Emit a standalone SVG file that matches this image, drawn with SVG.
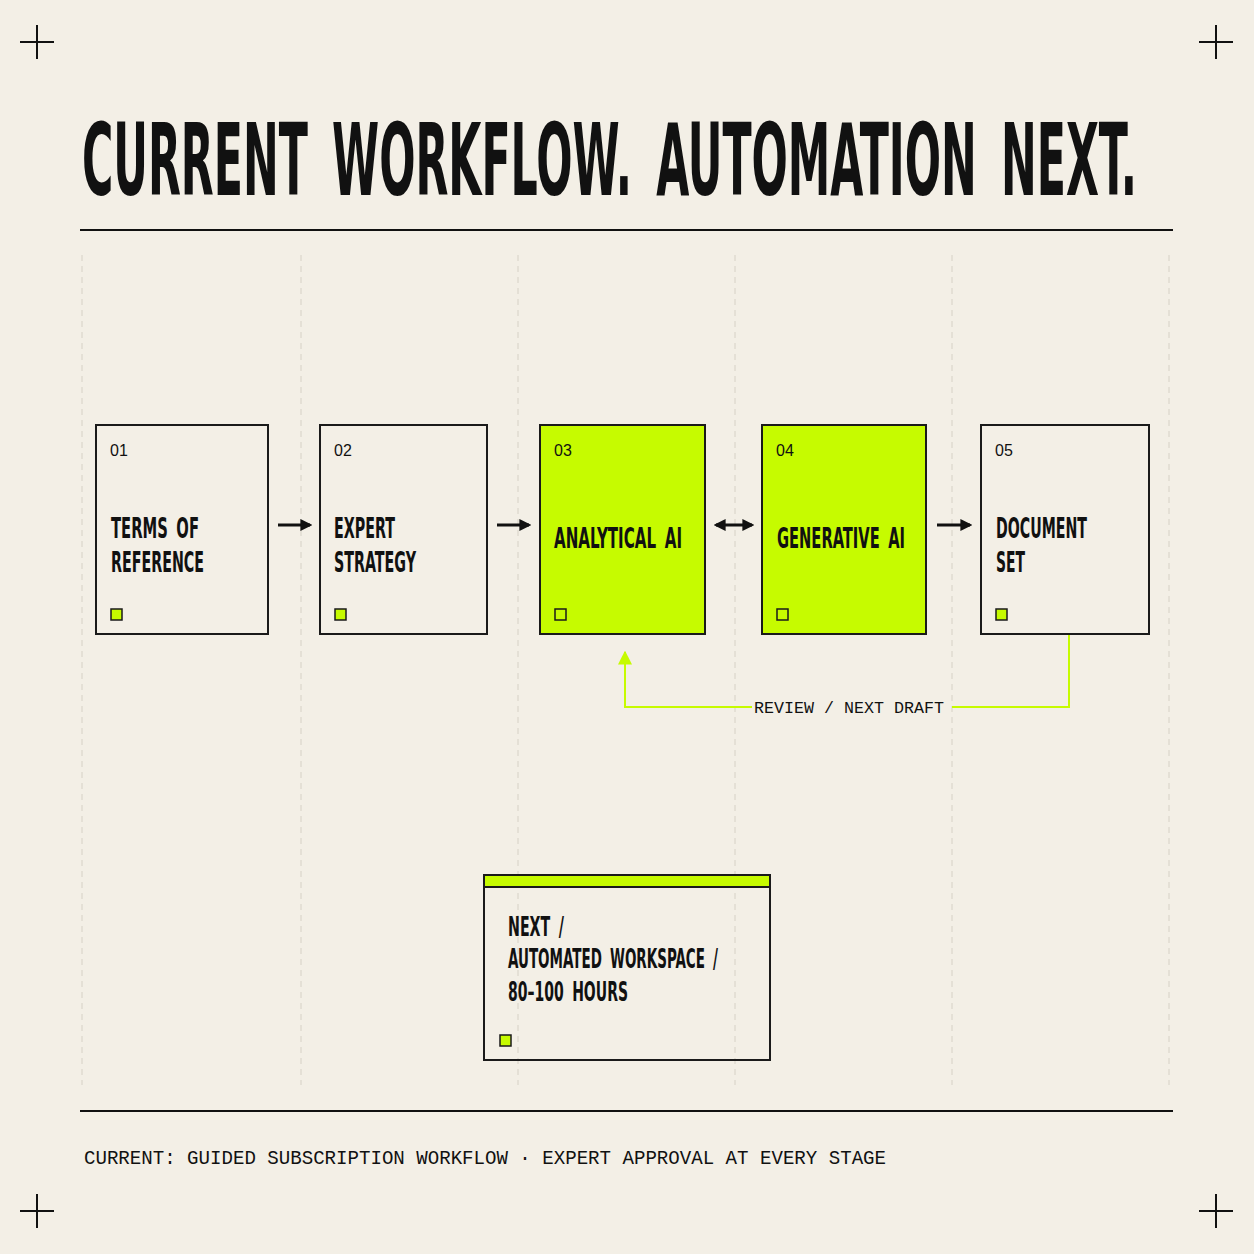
<svg xmlns="http://www.w3.org/2000/svg" width="1254" height="1254" viewBox="0 0 1254 1254">
<defs>
<style>
.cond{font-family:"Liberation Sans Narrow","DejaVu Sans Condensed","Liberation Sans",sans-serif;fill:#111;font-weight:bold;word-spacing:6px;}
.mono{font-family:"Liberation Mono","DejaVu Sans Mono",monospace;fill:#111;}
.num{font-family:"Liberation Sans","DejaVu Sans",sans-serif;font-size:16px;fill:#111;}
.box{fill:none;stroke:#1a1a1a;stroke-width:2;}
.hl{fill:#c6fb00;}
.grid{stroke:#d6d1c6;stroke-width:1;stroke-dasharray:6 5;}
.sq{fill:#c6fb00;stroke:#1a1a1a;stroke-width:1.5;}
.sqo{fill:none;stroke:#1a1a1a;stroke-width:1.5;}
.ar{stroke:#111;stroke-width:3;fill:none;}
.cross{stroke:#111;stroke-width:2;}
</style>
<marker id="ah" viewBox="0 0 10 10" refX="8" refY="5" markerWidth="4" markerHeight="4" orient="auto-start-reverse"><path d="M0,0L10,5L0,10z" fill="#111"/></marker>
<marker id="gh" viewBox="0 0 10 10" refX="9" refY="5" markerWidth="7" markerHeight="7" orient="auto"><path d="M0,0L10,5L0,10z" fill="#c6fb00"/></marker>
</defs>
<rect width="1254" height="1254" fill="#f3efe6"/>
<g id="crosses" class="cross">
<path d="M20,42H54M37,25V59M1199,42H1233M1216,25V59M20,1211H54M37,1194V1228M1199,1211H1233M1216,1194V1228"/>
</g>
<text class="cond" x="82" y="195" font-size="100" style="word-spacing:20px" textLength="1055" lengthAdjust="spacingAndGlyphs">CURRENT WORKFLOW. AUTOMATION NEXT.</text>
<path d="M80,230H1173M80,1111H1173" stroke="#111" stroke-width="2"/>
<g id="grid" class="grid">
<path d="M82,255V1085M301,255V1085M518,255V1085M735,255V1085M952,255V1085M1169,255V1085"/>
</g>
<g id="node1"><rect class="box" x="96" y="425" width="172" height="209"/>
<text class="num" x="110" y="456">01</text>
<text class="cond" x="111" y="538" font-size="29" textLength="88" lengthAdjust="spacingAndGlyphs">TERMS OF</text>
<text class="cond" x="111" y="572" font-size="29" textLength="93" lengthAdjust="spacingAndGlyphs">REFERENCE</text>
<rect class="sq" x="111" y="609" width="11" height="11"/></g>
<g id="node2"><rect class="box" x="320" y="425" width="167" height="209"/>
<text class="num" x="334" y="456">02</text>
<text class="cond" x="334" y="538" font-size="29" textLength="61" lengthAdjust="spacingAndGlyphs">EXPERT</text>
<text class="cond" x="334" y="572" font-size="29" textLength="82" lengthAdjust="spacingAndGlyphs">STRATEGY</text>
<rect class="sq" x="335" y="609" width="11" height="11"/></g>
<g id="node3"><rect class="box hl" x="540" y="425" width="165" height="209"/>
<text class="num" x="554" y="456">03</text>
<text class="cond" x="554" y="548" font-size="29" textLength="128" lengthAdjust="spacingAndGlyphs">ANALYTICAL AI</text>
<rect class="sqo" x="555" y="609" width="11" height="11"/></g>
<g id="node4"><rect class="box hl" x="762" y="425" width="164" height="209"/>
<text class="num" x="776" y="456">04</text>
<text class="cond" x="777" y="548" font-size="29" textLength="128" lengthAdjust="spacingAndGlyphs">GENERATIVE AI</text>
<rect class="sqo" x="777" y="609" width="11" height="11"/></g>
<g id="node5"><rect class="box" x="981" y="425" width="168" height="209"/>
<text class="num" x="995" y="456">05</text>
<text class="cond" x="996" y="538" font-size="29" textLength="91" lengthAdjust="spacingAndGlyphs">DOCUMENT</text>
<text class="cond" x="996" y="572" font-size="29" textLength="29" lengthAdjust="spacingAndGlyphs">SET</text>
<rect class="sq" x="996" y="609" width="11" height="11"/></g>
<g id="node6"><rect class="box" x="484" y="876" width="286" height="184"/>
<rect x="484" y="875" width="286" height="12" fill="#c6fb00" stroke="#1a1a1a" stroke-width="2"/>
<text class="cond" x="508" y="936" font-size="26" textLength="56" lengthAdjust="spacingAndGlyphs">NEXT /</text>
<text class="cond" x="508" y="968" font-size="26" textLength="210" lengthAdjust="spacingAndGlyphs">AUTOMATED WORKSPACE /</text>
<text class="cond" x="508" y="1001" font-size="26" textLength="120" lengthAdjust="spacingAndGlyphs">80–100 HOURS</text>
<rect class="sq" x="500" y="1035" width="11" height="11"/></g>
<g id="connectors">
<path class="ar" d="M278,525H310" marker-end="url(#ah)"/>
<path class="ar" d="M497,525H529" marker-end="url(#ah)"/>
<path class="ar" d="M716,525H752" marker-start="url(#ah)" marker-end="url(#ah)"/>
<path class="ar" d="M937,525H970" marker-end="url(#ah)"/>
<path d="M1069,635V707H952M752,707H625V652" fill="none" stroke="#c6fb00" stroke-width="2" marker-end="url(#gh)"/>
<text class="mono" x="849" y="713" font-size="17" text-anchor="middle" textLength="190" lengthAdjust="spacingAndGlyphs">REVIEW / NEXT DRAFT</text>
</g>
<text class="mono" x="84" y="1164" font-size="20" textLength="802" lengthAdjust="spacingAndGlyphs">CURRENT: GUIDED SUBSCRIPTION WORKFLOW · EXPERT APPROVAL AT EVERY STAGE</text>
</svg>
